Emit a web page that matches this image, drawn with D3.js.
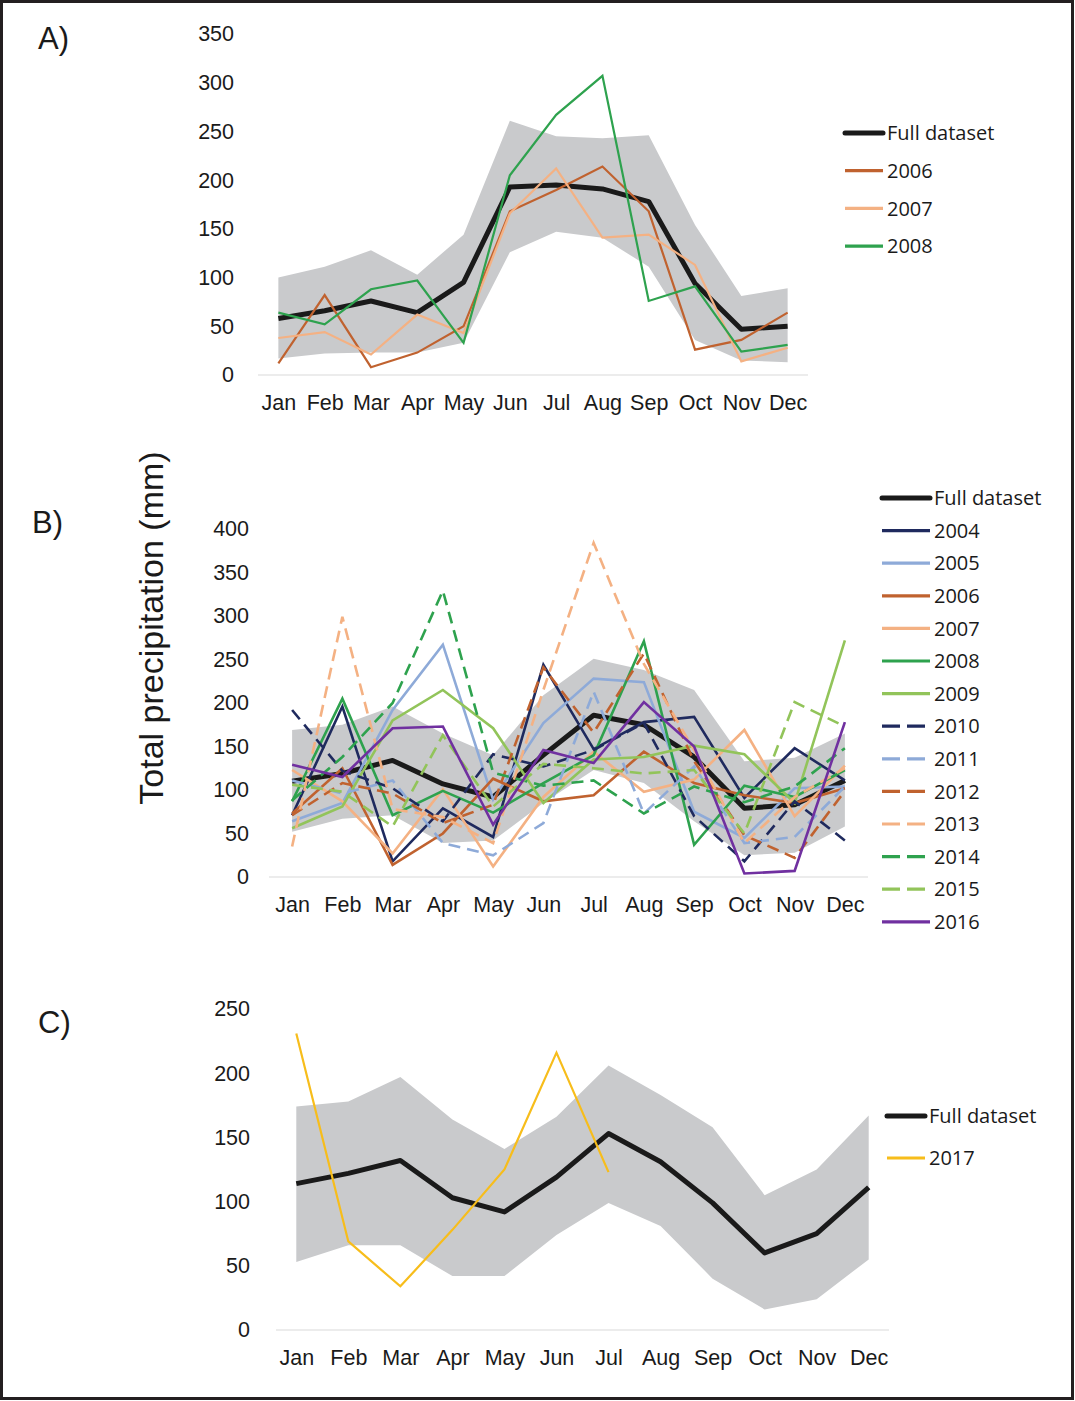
<!DOCTYPE html>
<html>
<head>
<meta charset="utf-8">
<script src="https://cdn.jsdelivr.net/npm/d3@7"></script>
<style>
  body { margin: 0; background: #fff; }
  svg text { font-family: "Liberation Sans", Arial, sans-serif; fill: #1a1a1a; }
  .legend text { font-family: "Open Sans", "Noto Sans", sans-serif; }
</style>
</head>
<body>
<div id="chart"></div>
<script>
const months = ["Jan", "Feb", "Mar", "Apr", "May", "Jun", "Jul", "Aug", "Sep", "Oct", "Nov", "Dec"];

// panel A
const aTicks = [0, 50, 100, 150, 200, 250, 300, 350];
const aFull  = [58, 66, 76, 64, 95, 193, 195, 191, 178, 94, 47, 50];
const aUpper = [100, 111, 128, 103, 144, 261, 245, 243, 246, 154, 81, 89];
const aLower = [17, 22, 23, 23, 33, 126, 147, 141, 111, 36, 15, 13];
const a2006 = [12, 82, 8, 23, 50, 168, 190, 214, 168, 26, 36, 64];
const a2007 = [38, 44, 21, 62, 43, 166, 212, 141, 144, 113, 14, 28];
const a2008 = [64, 52, 88, 97, 33, 205, 267, 307, 76, 91, 24, 31];

// panel B
const bTicks = [0, 50, 100, 150, 200, 250, 300, 350, 400];
const bFull  = [110, 119, 134, 107, 92, 140, 186, 175, 138, 79, 83, 111];
const bUpper = [169, 175, 196, 165, 140, 209, 251, 238, 215, 133, 137, 165];
const bLower = [52, 67, 71, 39, 42, 85, 123, 108, 64, 25, 28, 58];
const b2004 = [71, 196, 18, 79, 46, 244, 147, 178, 184, 91, 148, 111];
const b2005 = [64, 85, 192, 267, 89, 177, 228, 224, 75, 45, 102, 104];
const b2006 = [73, 125, 14, 50, 113, 87, 94, 144, 108, 94, 85, 102];
const b2007 = [123, 87, 27, 101, 12, 92, 144, 98, 112, 169, 70, 128];
const b2008 = [87, 205, 71, 99, 74, 108, 140, 271, 37, 105, 92, 123];
const b2009 = [56, 81, 180, 215, 171, 85, 135, 138, 151, 141, 85, 272];
const b2010 = [192, 122, 102, 64, 141, 127, 146, 177, 70, 18, 87, 42];
const b2011 = [111, 96, 111, 39, 25, 62, 213, 73, 127, 39, 46, 104];
const b2012 = [71, 108, 96, 62, 83, 241, 166, 257, 133, 48, 22, 99];
const b2013 = [35, 299, 78, 69, 39, 215, 384, 245, 146, 39, 92, 125];
const b2014 = [88, 138, 200, 329, 120, 105, 111, 73, 104, 86, 104, 148];
const b2015 = [106, 98, 58, 163, 81, 130, 125, 119, 123, 50, 201, 173];
const b2016 = [129, 115, 171, 173, 60, 146, 131, 201, 150, 4, 7, 178];

// panel C
const cTicks = [0, 50, 100, 150, 200, 250];
const cFull  = [114, 122, 132, 103, 92, 119, 153, 131, 99, 60, 75, 111];
const cUpper = [174, 178, 197, 164, 141, 166, 206, 183, 158, 105, 125, 167];
const cLower = [53, 66, 66, 42, 42, 74, 99, 81, 40, 16, 24, 55];
const c2017 = [231, 69, 34, 78, 125, 216, 123];

const col = {
  navy: "#1f2a5e", lblue: "#8eaad8", dorange: "#c0622f", lorange: "#f4b183",
  green: "#2ea24e", lgreen: "#92c45a", purple: "#7030a0", yellow: "#f7bd1b"
};
const dash = "12,7";

const panels = [
  {
    label: "A)", labelY: 49, ticks: aTicks, yMax: 350, yRange: [375, 34], xRange: [258, 808], pad: 0.44,
    tickX: 234, full: aFull, upper: aUpper, lower: aLower, lw: 2.2,
    series: [
      { name: "2006", values: a2006, color: col.dorange },
      { name: "2007", values: a2007, color: col.lorange },
      { name: "2008", values: a2008, color: col.green }
    ],
    legend: { x: 843, y: 133, step: 37.7, len: 42 }
  },
  {
    label: "B)", labelY: 533, labelX: 32, ticks: bTicks, yMax: 400, yRange: [877, 529], xRange: [269, 868], pad: 0.46,
    tickX: 249, full: bFull, upper: bUpper, lower: bLower, lw: 2.6,
    series: [
      { name: "2004", values: b2004, color: col.navy },
      { name: "2005", values: b2005, color: col.lblue },
      { name: "2006", values: b2006, color: col.dorange },
      { name: "2007", values: b2007, color: col.lorange },
      { name: "2008", values: b2008, color: col.green },
      { name: "2009", values: b2009, color: col.lgreen },
      { name: "2010", values: b2010, color: col.navy, dashed: true },
      { name: "2011", values: b2011, color: col.lblue, dashed: true },
      { name: "2012", values: b2012, color: col.dorange, dashed: true },
      { name: "2013", values: b2013, color: col.lorange, dashed: true },
      { name: "2014", values: b2014, color: col.green, dashed: true },
      { name: "2015", values: b2015, color: col.lgreen, dashed: true },
      { name: "2016", values: b2016, color: col.purple }
    ],
    legend: { x: 880, y: 498, step: 32.6, len: 52 }
  },
  {
    label: "C)", labelY: 1033, ticks: cTicks, yMax: 250, yRange: [1330, 1009], xRange: [276, 889], pad: 0.39,
    tickX: 250, full: cFull, upper: cUpper, lower: cLower, lw: 2.2,
    series: [
      { name: "2017", values: c2017, color: col.yellow }
    ],
    legend: { x: 885, y: 1116, step: 42, len: 42 }
  }
];

const svg = d3.select("#chart").append("svg")
  .attr("width", 1075)
  .attr("height", 1401);

svg.append("rect")
  .attr("x", 1.5).attr("y", 1.5)
  .attr("width", 1071).attr("height", 1397)
  .attr("fill", "none")
  .attr("stroke", "#231f20")
  .attr("stroke-width", 3);

panels.forEach(p => {
  const x = d3.scalePoint().domain(months).range(p.xRange).padding(p.pad);
  const y = d3.scaleLinear().domain([0, p.yMax]).range(p.yRange);
  const g = svg.append("g");

  // min-max band
  const area = d3.area()
    .x((d, i) => x(months[i]))
    .y0((d, i) => y(p.lower[i]))
    .y1(d => y(d));
  g.append("path")
    .datum(p.upper)
    .attr("d", area)
    .attr("fill", "#c9cacc");

  // x axis
  g.append("line")
    .attr("x1", p.xRange[0]).attr("x2", p.xRange[1])
    .attr("y1", p.yRange[0]).attr("y2", p.yRange[0])
    .attr("stroke", "#d9d9d9").attr("stroke-width", 1.2);

  const xAxis = g.append("g")
    .attr("transform", "translate(0," + p.yRange[0] + ")")
    .call(d3.axisBottom(x).tickSize(0).tickPadding(20));
  xAxis.select(".domain").remove();
  xAxis.selectAll("text").style("font-size", "21.5px").attr("fill", "#1a1a1a");

  const yAxis = g.append("g")
    .attr("transform", "translate(" + p.tickX + ",0)")
    .call(d3.axisLeft(y).tickValues(p.ticks).tickSize(0).tickPadding(0));
  yAxis.select(".domain").remove();
  yAxis.selectAll("text").style("font-size", "21.5px").attr("fill", "#1a1a1a");

  const line = d3.line().x((d, i) => x(months[i])).y(d => y(d));

  g.append("path")
    .datum(p.full)
    .attr("d", line)
    .attr("fill", "none")
    .attr("stroke", "#1a1a1a")
    .attr("stroke-width", 5)
    .attr("stroke-linejoin", "round");

  p.series.forEach(s => {
    g.append("path")
      .datum(s.values)
      .attr("d", line)
      .attr("fill", "none")
      .attr("stroke", s.color)
      .attr("stroke-width", p.lw)
      .attr("stroke-dasharray", s.dashed ? dash : null);
  });

  // panel label
  svg.append("text")
    .attr("x", p.labelX || 38).attr("y", p.labelY)
    .style("font-size", "31px")
    .text(p.label);

  // legend
  const lg = svg.append("g").attr("class", "legend");
  const items = [{ name: "Full dataset", color: "#1a1a1a", full: true }].concat(p.series);
  items.forEach((it, i) => {
    const ly = p.legend.y + i * p.legend.step;
    lg.append("line")
      .attr("x1", p.legend.x + 2).attr("x2", p.legend.x + p.legend.len - 2)
      .attr("y1", ly).attr("y2", ly)
      .attr("stroke", it.color)
      .attr("stroke-width", it.full ? 5 : 3.2)
      .attr("stroke-linecap", it.full ? "round" : "butt")
      .attr("stroke-dasharray", it.dashed ? "18,7" : null);
    lg.append("text")
      .attr("x", p.legend.x + p.legend.len + 2)
      .attr("y", ly)
      .attr("dy", "0.36em")
      .style("font-size", "20px")
      .text(it.name);
  });
});

svg.append("text")
  .attr("transform", "translate(163,628) rotate(-90)")
  .attr("text-anchor", "middle")
  .style("font-size", "34px")
  .text("Total precipitation (mm)");
</script>
</body>
</html>
